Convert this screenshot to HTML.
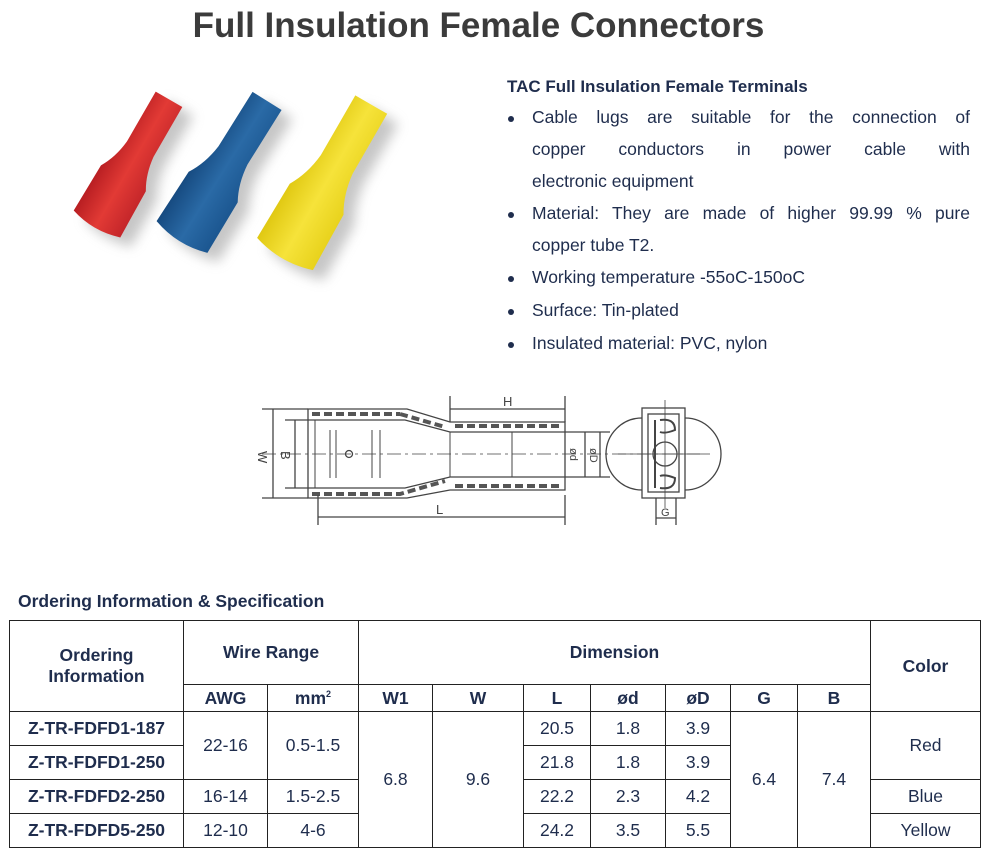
<!DOCTYPE html>
<html><head><meta charset="utf-8"><style>
body{margin:0;width:987px;height:853px;background:#fff;position:relative;font-family:"Liberation Sans",sans-serif;overflow:hidden}
.t{position:absolute;white-space:nowrap}
h1{position:absolute;left:0;width:957px;top:6px;margin:0;text-align:center;font-size:35px;color:#3b3b3b;font-weight:bold}
.hd{left:507px;top:77px;font-weight:bold;font-size:17px;color:#1f2d4d}
.ln{position:absolute;left:532px;width:438px;font-size:17.5px;color:#1f2d4d;text-align:justify;text-align-last:justify;white-space:nowrap}
.ln.l{text-align-last:left}
.bul{position:absolute;left:508px;width:6px;height:6px;border-radius:3px;background:#1f2d4d}
table{position:absolute;left:9px;top:620px;border-collapse:collapse;font-size:17.5px;color:#1f2d4d}
td{border:1.5px solid #222;text-align:center;padding:0;height:33px}
th{border:1.5px solid #222;font-weight:bold;text-align:center;padding:0}
</style></head><body>
<h1>Full Insulation Female Connectors</h1>

<svg class="t" style="left:0;top:0" width="480" height="320">
<defs>
<filter id="sh"><feGaussianBlur stdDeviation="6"/></filter>
<linearGradient id="gr" x1="0" x2="1"><stop offset="0" stop-color="#b81e22"/><stop offset=".5" stop-color="#e23a35"/><stop offset="1" stop-color="#c4262a"/></linearGradient>
<linearGradient id="gb" x1="0" x2="1"><stop offset="0" stop-color="#164a80"/><stop offset=".5" stop-color="#2a6aa6"/><stop offset="1" stop-color="#1b5690"/></linearGradient>
<linearGradient id="gy" x1="0" x2="1"><stop offset="0" stop-color="#e0c812"/><stop offset=".5" stop-color="#f6e33a"/><stop offset="1" stop-color="#e8d21c"/></linearGradient>
<path id="c" d="M-16,-150 L16,-150 L16,-90 Q18,-70 27,-55 L28,0 Q0,9 -28,0 L-27,-55 Q-18,-70 -16,-90 Z"/>
</defs>
<g fill="#999" opacity=".55" filter="url(#sh)">
<use href="#c" transform="translate(108,233) rotate(30) scale(0.96)"/>
<use href="#c" transform="translate(193,246) rotate(32) scale(1.07)"/>
<use href="#c" transform="translate(296,264) rotate(30) scale(1.15)"/>
</g>
<use href="#c" fill="url(#gr)" transform="translate(97,224) rotate(30) scale(0.96)"/>
<use href="#c" fill="url(#gb)" transform="translate(182,237) rotate(32) scale(1.07)"/>
<use href="#c" fill="url(#gy)" transform="translate(285,254) rotate(30) scale(1.15)"/>
</svg>

<div class="t hd">TAC Full Insulation Female Terminals</div>
<div class="bul" style="top:116px"></div>
<div class="ln" style="top:107px">Cable lugs are suitable for the connection of</div>
<div class="ln" style="top:139px">copper conductors in power cable with</div>
<div class="ln l" style="top:171px">electronic equipment</div>
<div class="bul" style="top:212px"></div>
<div class="ln" style="top:203px">Material: They are made of higher 99.99 % pure</div>
<div class="ln l" style="top:235px">copper tube T2.</div>
<div class="bul" style="top:276px"></div>
<div class="ln l" style="top:267px">Working temperature -55oC-150oC</div>
<div class="bul" style="top:309px"></div>
<div class="ln l" style="top:300px">Surface: Tin-plated</div>
<div class="bul" style="top:342px"></div>
<div class="ln l" style="top:333px">Insulated material: PVC, nylon</div>

<svg class="t" style="left:0;top:0" width="987" height="560" fill="none" stroke="#444" stroke-width="1.3">
<path d="M308,409 H407 L450,422 H565 V490 H450 L407,498 H308 Z"/>
<path d="M315,420 H405 L450,432 H565 M315,488 H405 L450,477 H565"/>
<path d="M315,420 V488 M450,432 V477 M512,432 V477 M330,430 V478 M336,430 V478 M372,430 V478 M380,430 V478" stroke-width="1"/>
<path d="M312,414 H400 M312,494 H400 L445,481 M455,426 H560 M455,486 H560 M400,414 L445,427" stroke="#555" stroke-width="4" stroke-dasharray="8 4"/>
<path d="M262,454 H700" stroke-width=".8" stroke-dasharray="14 4 3 4"/>
<circle cx="349" cy="454" r="3.5"/>
<path d="M262,409 H308 M262,498 H308 M285,420 H315 M285,488 H315 M273,409 V498 M295,420 V488"/>
<path d="M450,396 V422 M565,396 V422 M450,409 H565 M318,495 V525 M565,495 V525 M318,517 H565"/>
<path d="M565,432 H610 M565,477 H610 M585,432 V477 M600,432 V477"/>
<rect x="642" y="408" width="43" height="90"/>
<rect x="648" y="414" width="31" height="78"/>
<path d="M642,418 A36,36 0 0,0 642,490 M685,418 A36,36 0 0,1 685,490"/>
<circle cx="665" cy="454" r="12"/>
<path d="M655,420 V488 M660,420 Q675,418 675,430 Q665,434 660,432 M660,488 Q675,490 675,478 Q665,474 660,476" stroke-width="2"/>
<path d="M618,454 H710 M665,400 V508" stroke-width=".8"/>
<path d="M656,498 V525 M676,498 V525 M656,518 H676"/>
<g fill="#444" stroke="none" font-family="Liberation Sans" font-size="13">
<text x="503" y="406">H</text><text x="436" y="514">L</text>
<text x="661" y="516" font-size="11">G</text>
<text transform="translate(258,451) rotate(90)">W</text>
<text transform="translate(281,451) rotate(90)">B</text>
<text transform="translate(570,448) rotate(90)" font-size="11">ød</text>
<text transform="translate(590,448) rotate(90)" font-size="11">øD</text>
</g>
</svg>

<div class="t" style="left:18px;top:591px;font-weight:bold;font-size:17.5px;color:#1f2d4d">Ordering Information &amp; Specification</div>
<table>
<colgroup><col style="width:174px"><col style="width:84px"><col style="width:91px"><col style="width:74px"><col style="width:91px"><col style="width:67px"><col style="width:75px"><col style="width:65px"><col style="width:67px"><col style="width:73px"><col style="width:110px"></colgroup>
<tr style="height:64px"><th rowspan="2">Ordering<br>Information</th><th colspan="2">Wire Range</th><th colspan="7">Dimension</th><th rowspan="2">Color</th></tr>
<tr style="height:27px"><th>AWG</th><th>mm<sup style="font-size:9px">2</sup></th><th>W1</th><th>W</th><th>L</th><th>ød</th><th>øD</th><th>G</th><th>B</th></tr>
<tr><td><b>Z-TR-FDFD1-187</b></td><td rowspan="2">22-16</td><td rowspan="2">0.5-1.5</td><td rowspan="4">6.8</td><td rowspan="4">9.6</td><td>20.5</td><td>1.8</td><td>3.9</td><td rowspan="4">6.4</td><td rowspan="4">7.4</td><td rowspan="2">Red</td></tr>
<tr><td><b>Z-TR-FDFD1-250</b></td><td>21.8</td><td>1.8</td><td>3.9</td></tr>
<tr><td><b>Z-TR-FDFD2-250</b></td><td>16-14</td><td>1.5-2.5</td><td>22.2</td><td>2.3</td><td>4.2</td><td>Blue</td></tr>
<tr><td><b>Z-TR-FDFD5-250</b></td><td>12-10</td><td>4-6</td><td>24.2</td><td>3.5</td><td>5.5</td><td>Yellow</td></tr>
</table>
</body></html>
